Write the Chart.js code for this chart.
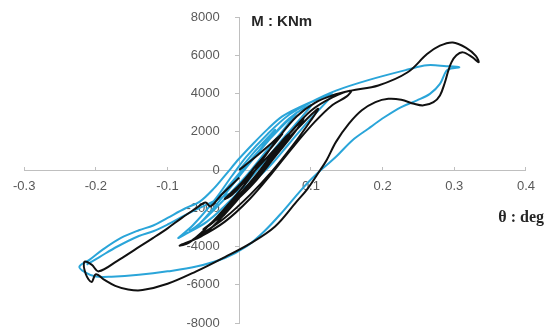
<!DOCTYPE html>
<html>
<head>
<meta charset="utf-8">
<script src="https://cdn.jsdelivr.net/npm/chart.js@4.4.1/dist/chart.umd.min.js"></script>
<style>
html, body { margin: 0; padding: 0; background: #fff; }
#wrap { width: 548px; height: 334px; position: relative; }
</style>
</head>
<body>
<div id="wrap"><canvas id="hystChart"></canvas></div>
<script>
// Rotation (deg) and moment (kNm), in loading order
const testTheta = [
    0, 0.02, 0.045, 0.06, 0.05, 0.025, 0, -0.02, -0.01, 0.015,
    0.05, 0.075, 0.09, 0.078, 0.05, 0.02, -0.01, -0.04, -0.05, -0.035, -0.005, 0.025,
    0.055, 0.07, 0.06, 0.035, 0.005, -0.025, -0.04, -0.025, 0.005, 0.035,
    0.06, 0.09, 0.11, 0.1, 0.075, 0.045, 0.015, -0.02, -0.05, -0.065, -0.05, -0.02, 0.01,
    0.04, 0.07, 0.1, 0.13, 0.156, 0.15, 0.13, 0.105, 0.075, 0.045, 0.015, -0.02, -0.055, -0.083,
    -0.07, -0.045, -0.02, 0.005, 0.03, 0.055, 0.08, 0.105, 0.13, 0.156,
    0.194, 0.235, 0.262, 0.28, 0.298, 0.316, 0.33, 0.334,
    0.325, 0.312, 0.303, 0.296, 0.291, 0.287, 0.28, 0.271, 0.257, 0.244, 0.226, 0.208, 0.19, 0.171, 0.153, 0.135, 0.122,
    0.113, 0.095, 0.08, 0.05, 0.015, -0.02, -0.06, -0.1, -0.135, -0.155, -0.173, -0.188, -0.2,
    -0.206, -0.214, -0.216, -0.206, -0.196,
    -0.17, -0.145, -0.12, -0.1, -0.08, -0.06, -0.047, -0.04, -0.025, 0
];
const testMoment = [
    0, 600, 1400, 1900, 1400, 300, -800, -1500, -1300, -300,
    1100, 2100, 2700, 2000, 700, -700, -1800, -2800, -3100, -2700, -1500, -200,
    1300, 1900, 1300, 200, -1100, -2300, -2800, -2400, -1200, 100,
    1300, 2500, 3200, 2600, 1300, -100, -1300, -2500, -3300, -3650, -3400, -2300, -1000,
    500, 1900, 3100, 3800, 4150, 3850, 3400, 2500, 1200, -200, -1500, -2700, -3500, -3950,
    -3800, -3000, -2000, -900, 400, 1700, 2800, 3500, 3900, 4150,
    4420, 5110, 6060, 6500, 6670, 6400, 5970, 5630,
    5900, 6150, 6000, 5630, 5110, 4590, 3900, 3550, 3380, 3460, 3670, 3720, 3550, 3120, 2420, 1470, 520,
    0, -1000, -1650, -2950, -3850, -4550, -5300, -5950, -6280, -6250, -6060, -5750, -5450,
    -5850, -5450, -4800, -4950, -5300,
    -4750, -4150, -3550, -3050, -2500, -2000, -1700, -1900, -1300, -400
];

const modelTheta = [
    0, 0.02, 0.04, 0.05, 0.038, 0.01, -0.02, -0.04, -0.03, -0.005,
    0.025, 0.055, 0.08, 0.068, 0.04, 0.01, -0.025, -0.055, -0.07, -0.055, -0.025, 0.005,
    0.04, 0.07, 0.1, 0.088, 0.06, 0.03, -0.01, -0.045, -0.075, -0.085, -0.065, -0.035, -0.01,
    0.01, 0.04, 0.07, 0.1, 0.135, 0.18, 0.235, 0.262, 0.289, 0.307, 0.295,
    0.289, 0.28, 0.266, 0.248, 0.226, 0.203, 0.18, 0.158, 0.135, 0.117,
    0.1, 0.085, 0.06, 0.035, 0.01, -0.02, -0.06, -0.1, -0.14, -0.178, -0.2, -0.215, -0.223,
    -0.209, -0.19, -0.165, -0.14, -0.12, -0.1, -0.075, -0.055, -0.035, -0.018, 0, 0.02, 0.04, 0.06, 0.085, 0.11, 0.13,
    0.12, 0.1, 0.07, 0.04, 0.01, -0.02, -0.045, -0.075, -0.1, -0.12, -0.14, -0.17, -0.195, -0.213
];
const modelMoment = [
    0, 900, 1700, 2100, 1500, 200, -1100, -1800, -1500, -400,
    900, 2100, 3000, 2400, 1100, -300, -1700, -2800, -3200, -2800, -1500, -100,
    1500, 2700, 3400, 2800, 1600, 200, -1500, -2700, -3350, -3550, -2900, -1600, -300,
    700, 1900, 2900, 3550, 4150, 4700, 5250, 5480, 5430, 5370, 5300,
    5190, 4500, 3980, 3640, 3290, 2770, 2160, 1560, 690, 100,
    -500, -1100, -2200, -3200, -4000, -4600, -5050, -5300, -5480, -5580, -5570, -5350, -5050,
    -4700, -4150, -3550, -3150, -2900, -2500, -2000, -1650, -950, -200, 600, 1400, 2150, 2800, 3300, 3700, 3950,
    3500, 2700, 1400, 100, -850, -1350, -1800, -2350, -2850, -3200, -3450, -4000, -4550, -4950
];

const xTicks = [-0.3, -0.2, -0.1, 0, 0.1, 0.2, 0.3, 0.4];
const xLabels = ['-0.3', '-0.2', '-0.1', '', '0.1', '0.2', '0.3', '0.4'];
const yTicks = [-8000, -6000, -4000, -2000, 0, 2000, 4000, 6000, 8000];
const yLabels = ['-8000', '-6000', '-4000', '-2000', '0', '2000', '4000', '6000', '8000'];

function toPoints(xs, ys) {
    return xs.map((x, i) => ({ x: x, y: ys[i] }));
}

// axis titles sit next to the crossing axes
const axisTitles = {
    id: 'axisTitles',
    afterDraw(chart) {
        const ctx = chart.ctx;
        const x0 = chart.scales.x.getPixelForValue(0);
        const yTop = chart.scales.y.getPixelForValue(8000);
        const y0 = chart.scales.y.getPixelForValue(0);
        ctx.save();
        ctx.fillStyle = '#262626';
        ctx.textBaseline = 'middle';
        ctx.textAlign = 'left';
        ctx.font = 'bold 15px "Liberation Sans"';
        ctx.fillText('M : KNm', x0 + 12, yTop + 5);
        ctx.textAlign = 'right';
        ctx.font = 'bold 16px "Liberation Serif"';
        ctx.fillText('θ : deg', chart.width - 4, y0 + 48);
        ctx.restore();
    }
};

const ctx = document.getElementById('hystChart').getContext('2d');
const hystChart = new Chart(ctx, {
    type: 'scatter',
    data: {
        datasets: [{
            label: 'Test',
            data: toPoints(testTheta, testMoment),
            borderColor: '#111111',
            borderWidth: 2,
            showLine: true,
            pointRadius: 0,
            tension: 0.35
        }, {
            label: 'Model',
            data: toPoints(modelTheta, modelMoment),
            borderColor: '#2aa5d9',
            borderWidth: 2,
            showLine: true,
            pointRadius: 0,
            tension: 0.35
        }]
    },
    options: {
        responsive: true,
        maintainAspectRatio: false,
        animation: false,
        layout: {
            padding: { left: 21, right: 12, top: 17, bottom: 11 }
        },
        plugins: {
            legend: { display: false },
            tooltip: { enabled: false }
        },
        scales: {
            x: {
                type: 'linear',
                min: -0.3,
                max: 0.4,
                position: { y: 0 },
                afterFit: (scale) => { scale.height = 0; },
                afterBuildTicks: (scale) => { scale.ticks = xTicks.map(v => ({ value: v })); },
                border: { color: '#bfbfbf', width: 1 },
                grid: { drawOnChartArea: false, color: '#bfbfbf', tickLength: -4 },
                ticks: {
                    padding: 13,
                    color: '#595959',
                    font: { family: '"Liberation Sans"', size: 13 },
                    maxRotation: 0,
                    autoSkip: false,
                    callback: (v, i) => xLabels[i]
                }
            },
            y: {
                type: 'linear',
                min: -8000,
                max: 8000,
                position: { x: 0 },
                afterFit: (scale) => { scale.width = 0; },
                afterBuildTicks: (scale) => { scale.ticks = yTicks.map(v => ({ value: v })); },
                border: { color: '#bfbfbf', width: 1 },
                grid: { drawOnChartArea: false, color: '#bfbfbf', tickLength: 4 },
                ticks: {
                    color: '#595959',
                    font: { family: '"Liberation Sans"', size: 13 },
                    autoSkip: false,
                    callback: (v, i) => yLabels[i] + '\u2002\u2002\u2002'
                }
            }
        }
    },
    plugins: [axisTitles]
});
</script>
</body>
</html>
